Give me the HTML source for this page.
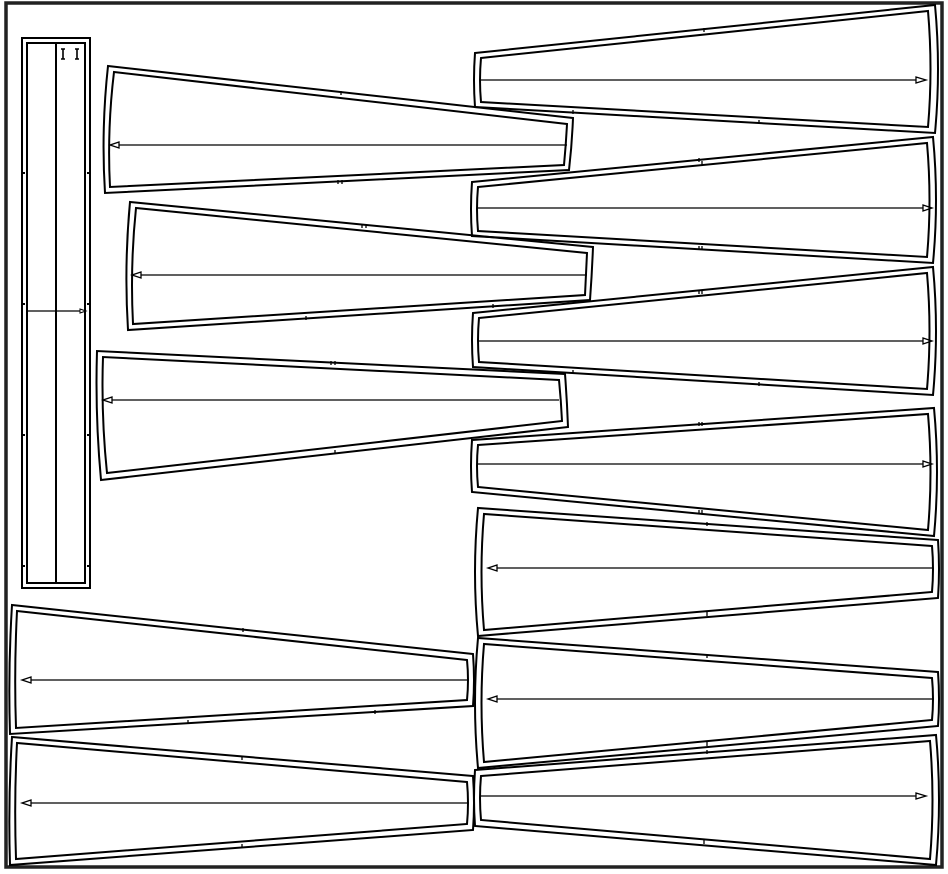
<!DOCTYPE html>
<html><head><meta charset="utf-8"><style>
html,body{margin:0;padding:0;background:#fff;width:948px;height:874px;overflow:hidden}
svg{display:block}
</style></head><body>
<svg width="948" height="874" viewBox="0 0 948 874" xmlns="http://www.w3.org/2000/svg">
<rect x="6" y="3" width="936" height="864" fill="#fff" stroke="#222" stroke-width="3.5"/>
<g fill="none" stroke="#000" stroke-width="2" stroke-linejoin="miter">
<rect x="22" y="38" width="68" height="550"/>
<rect x="27" y="43" width="58" height="540"/>
<line x1="56" y1="43" x2="56" y2="583"/>
<line x1="27" y1="311" x2="80" y2="311" stroke-width="1.3"/>
<path d="M80,309 L86,311 L80,313 Z" stroke-width="1"/>
<path d="M63,49 V59 M61,49 H65 M61,59 H65 M77,49 V59 M75,49 H79 M75,59 H79" stroke-width="1.6"/>
<path d="M22,173 H25 M87,173 H90 M22,304 H25 M87,304 H90 M22,435 H25 M87,435 H90 M22,566 H25 M87,566 H90"/>

<path d="M475,53 L935,5 Q941,69 935,133 L475,107 Q473,80 475,53 Z"/>
<path d="M481,58 L928,11 Q933,69 928,127 L481,102 Q479,80 481,58 Z"/>
<path d="M472,182 L933,137 Q939,200 933,263 L472,236 Q470,209 472,182 Z"/>
<path d="M478,187 L927,143 Q932,200 927,257 L478,231 Q476,209 478,187 Z"/>
<path d="M473,313 L933,267 Q939,331 933,395 L473,367 Q471,340 473,313 Z"/>
<path d="M479,318 L927,273 Q932,331 927,389 L479,362 Q477,340 479,318 Z"/>
<path d="M472,440 L934,408 Q940,472 934,536 L472,492 Q470,466 472,440 Z"/>
<path d="M478,445 L928,414 Q933,472 928,530 L478,487 Q476,466 478,445 Z"/>
<path d="M938,540 L478,508 Q472,572 478,636 L938,598 Q940,569 938,540 Z"/>
<path d="M932,546 L484,514 Q479,572 484,630 L932,592 Q934,569 932,546 Z"/>
<path d="M938,672 L478,638 Q472,703 478,768 L938,726 Q940,699 938,672 Z"/>
<path d="M932,678 L484,644 Q479,703 484,762 L932,720 Q934,699 932,678 Z"/>
<path d="M475,770 L936,735 Q942,800 936,865 L475,826 Q473,798 475,770 Z"/>
<path d="M481,776 L930,741 Q935,800 930,859 L481,820 Q479,798 481,776 Z"/>

<path d="M573,118 L108,66 Q101,130 105,193 L569,170 Q572,144 573,118 Z"/>
<path d="M567,124 L114,72 Q107,130 110,187 L564,165 Q566,144 567,124 Z"/>
<path d="M593,247 L130,202 Q124,266 128,330 L590,300 Q592,273 593,247 Z"/>
<path d="M587,253 L136,208 Q130,266 133,324 L585,295 Q586,273 587,253 Z"/>
<path d="M565,374 L97,351 Q95,415 101,480 L568,427 Q567,400 565,374 Z"/>
<path d="M559,380 L103,357 Q101,415 107,473 L562,421 Q561,400 559,380 Z"/>
<path d="M473,654 L12,605 Q8,670 10,734 L473,706 Q475,680 473,654 Z"/>
<path d="M467,660 L17,611 Q14,670 16,728 L467,700 Q469,680 467,660 Z"/>
<path d="M473,776 L12,737 Q8,800 10,865 L473,830 Q475,803 473,776 Z"/>
<path d="M467,782 L17,743 Q14,800 16,859 L467,824 Q469,803 467,782 Z"/>
</g>
<g fill="none" stroke="#000" stroke-width="1.3">
<line x1="481" y1="80" x2="916" y2="80"/><path d="M916,77 L926,80 L916,83 Z"/>
<line x1="478" y1="208" x2="923" y2="208"/><path d="M923,205 L932,208 L923,211 Z"/>
<line x1="479" y1="341" x2="923" y2="341"/><path d="M923,338 L932,341 L923,344 Z"/>
<line x1="478" y1="464" x2="923" y2="464"/><path d="M923,461 L932,464 L923,467 Z"/>
<line x1="932" y1="568" x2="497" y2="568"/><path d="M497,565 L488,568 L497,571 Z"/>
<line x1="932" y1="699" x2="497" y2="699"/><path d="M497,696 L488,699 L497,702 Z"/>
<line x1="481" y1="796" x2="916" y2="796"/><path d="M916,793 L926,796 L916,799 Z"/>
<line x1="567" y1="145" x2="119" y2="145"/><path d="M119,142 L110,145 L119,148 Z"/>
<line x1="587" y1="275" x2="141" y2="275"/><path d="M141,272 L132,275 L141,278 Z"/>
<line x1="559" y1="400" x2="112" y2="400"/><path d="M112,397 L103,400 L112,403 Z"/>
<line x1="467" y1="680" x2="31" y2="680"/><path d="M31,677 L22,680 L31,683 Z"/>
<line x1="467" y1="803" x2="31" y2="803"/><path d="M31,800 L22,803 L31,806 Z"/>
<path d="M704,28 v4 M573,110 v4 M759,120 v4 M699,158 v4 M702,161 v4 M699,246 v4 M702,246 v4 M699,290 v4 M702,290 v4 M573,370 v4 M759,382 v4 M699,422 v4 M702,422 v4 M699,510 v4 M702,510 v4 M707,522 v4 M707,612 v4 M707,654 v4 M707,742 v4 M707,750 v4 M704,840 v4 M341,91 v4 M338,180 v4 M342,180 v4 M362,224 v4 M366,224 v4 M306,316 v4 M493,304 v4 M331,361 v4 M335,361 v4 M335,450 v4 M243,628 v4 M188,720 v4 M375,710 v4 M242,756 v4 M242,844 v4"/>
</g>
</svg>
</body></html>
